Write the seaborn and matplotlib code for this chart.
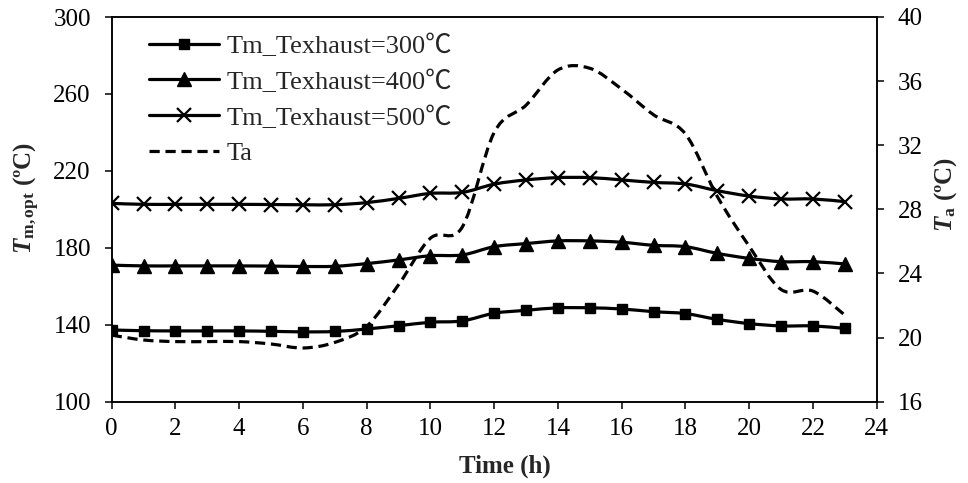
"""Optimal Tm for three exhaust temperatures against hourly ambient temperature Ta."""

import matplotlib.pyplot as plt
import numpy as np
import pandas as pd
import seaborn as sns
from matplotlib.lines import Line2D
from matplotlib.patches import PathPatch
from matplotlib.path import Path

HOURS = list(range(24))
TM_300 = [137.3, 136.9, 136.8, 136.8, 136.8, 136.6, 136.3, 136.5, 137.8, 139.5, 141.3, 142.0,
          146.0, 147.5, 148.8, 148.8, 148.2, 146.8, 145.8, 142.8, 140.6, 139.4, 139.4, 138.1]
TM_400 = [171.0, 170.6, 170.6, 170.6, 170.6, 170.5, 170.3, 170.4, 171.8, 173.7, 175.9, 176.3,
          180.6, 182.2, 183.6, 183.6, 182.9, 181.3, 180.6, 177.1, 174.5, 172.8, 172.8, 171.6]
TM_500 = [203.1, 202.6, 202.6, 202.6, 202.6, 202.5, 202.4, 202.4, 203.5, 205.7, 208.3, 208.8,
          213.1, 215.3, 216.5, 216.5, 215.3, 214.0, 213.2, 209.7, 206.9, 205.4, 205.4, 204.0]
TA = [20.15, 19.85, 19.75, 19.75, 19.75, 19.6, 19.35, 19.7, 20.7, 23.3, 26.2, 26.9,
      32.8, 34.5, 36.7, 36.8, 35.5, 33.9, 32.7, 28.8, 25.7, 23.0, 22.9, 21.4]
SERIES_LABELS = ["Tm_Texhaust=300℃", "Tm_Texhaust=400℃", "Tm_Texhaust=500℃"]
TA_LABEL = "Ta"

LW = 2.3
DASH = (0, (3.2, 1.8))
SERIF = ["Liberation Serif", "Noto Sans CJK SC"]


def smooth_path(x, y) -> Path:
    # Excel-style smoothed line: Catmull-Rom segments as cubic Beziers
    pts = np.column_stack([x, y]).astype(float)
    n = len(pts)
    verts, codes = [pts[0]], [Path.MOVETO]
    for i in range(n - 1):
        p0 = pts[i - 1] if i > 0 else pts[i]
        p1, p2 = pts[i], pts[i + 1]
        p3 = pts[i + 2] if i + 2 < n else pts[i + 1]
        verts += [p1 + (p2 - p0) / 6, p2 - (p3 - p1) / 6, p2]
        codes += [Path.CURVE4] * 3
    return Path(verts, codes)


def main() -> None:
    sns.set_style("ticks")
    plt.rcParams["font.family"] = SERIF
    plt.rcParams["mathtext.fontset"] = "custom"
    plt.rcParams["mathtext.rm"] = "Liberation Serif"
    plt.rcParams["mathtext.it"] = "Liberation Serif:italic"
    plt.rcParams["mathtext.bf"] = "Liberation Serif:bold"
    plt.rcParams["mathtext.bfit"] = "Liberation Serif:italic:bold"

    df = pd.DataFrame({"hour": HOURS, "t300": TM_300, "t400": TM_400, "t500": TM_500, "ta": TA})

    fig = plt.figure(figsize=(9.68, 4.83), dpi=100)
    ax = fig.add_axes([111.7 / 968, 1 - 401.7 / 483, 765 / 968, 384.7 / 483])
    ax2 = ax.twinx()

    styles = [("t300", "s", 7.8, 1.0), ("t400", "^", 9.5, 1.0), ("t500", "x", 9.5, 1.6)]
    for col, mk, ms, mew in styles:
        ax.add_patch(PathPatch(smooth_path(df["hour"], df[col]), fill=False,
                               lw=LW, edgecolor="black", zorder=2))
        sns.lineplot(data=df, x="hour", y=col, ax=ax, linewidth=0, marker=mk,
                     markersize=ms, color="black", markeredgecolor="black",
                     markeredgewidth=mew, zorder=3)

    ax2.add_patch(PathPatch(smooth_path(df["hour"], df["ta"]), fill=False, lw=LW,
                            edgecolor="black", linestyle=DASH, capstyle="butt"))

    ax.set_xlim(0, 24)
    ax.set_ylim(100, 300)
    ax2.set_ylim(16, 40)
    ax.set_xticks(range(0, 25, 2))
    ax.set_yticks(range(100, 301, 40))
    ax2.set_yticks(range(16, 41, 4))
    ax.set_xlabel("")
    ax.set_ylabel("")

    for a in (ax, ax2):
        for sp in a.spines.values():
            sp.set_visible(True)
            sp.set_linewidth(1.1)
            sp.set_color("black")
        a.tick_params(direction="out", length=5, width=1.1, colors="black", labelsize=18)
    ax.tick_params(axis="y", pad=10)
    ax.tick_params(axis="x", pad=7)
    ax2.tick_params(axis="y", pad=10)

    fig.text(0.0279, 0.590, r"$\mathbfit{T}_{\mathbf{m,opt}}$ (ºC)", rotation=90,
             ha="center", va="center", fontsize=18, fontweight="bold")
    fig.text(0.977, 0.598, r"$\mathbfit{T}_{\mathbf{a}}$ (ºC)", rotation=90,
             ha="center", va="center", fontsize=18, fontweight="bold")
    fig.text(505 / 968, 1 - 466 / 483, "Time (h)", ha="center", va="center",
             fontsize=18, fontweight="bold")

    handles = [Line2D([], [], color="black", lw=LW, marker=mk, markersize=ms,
                      markeredgewidth=mew) for _, mk, ms, mew in styles]
    handles.append(Line2D([], [], color="black", lw=LW, linestyle=DASH))
    ax2.legend(handles, SERIES_LABELS + [TA_LABEL], loc="upper left",
               bbox_to_anchor=(0.0488, 0.955), frameon=False, borderpad=0,
               borderaxespad=0, handlelength=2.65, handletextpad=0.27,
               labelspacing=0.47, prop={"family": SERIF, "size": 19})

    fig.savefig("out.png", dpi=100)
    plt.close(fig)


if __name__ == "__main__":
    main()
